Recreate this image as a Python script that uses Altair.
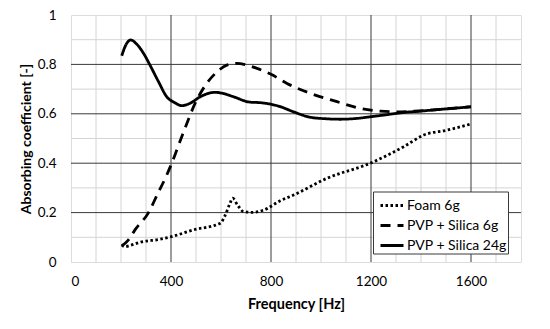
import altair as alt
import pandas as pd

# ---- data ----
foam_f = [203, 215, 243, 276, 356, 403, 490, 597, 617, 635, 647, 666, 690, 724, 770, 837, 890, 1024, 1197, 1331, 1411, 1505, 1600]
foam_v = [0.069, 0.062, 0.069, 0.080, 0.092, 0.103, 0.130, 0.157, 0.190, 0.235, 0.258, 0.231, 0.204, 0.201, 0.210, 0.248, 0.271, 0.339, 0.400, 0.467, 0.514, 0.534, 0.559]

pvp6_f = [203, 230, 256, 310, 346, 383, 403, 443, 503, 543, 590, 623, 663, 700, 744, 800, 864, 957, 1064, 1157, 1237, 1300, 1400, 1500, 1600]
pvp6_v = [0.065, 0.090, 0.130, 0.200, 0.275, 0.352, 0.400, 0.507, 0.656, 0.723, 0.775, 0.797, 0.804, 0.798, 0.784, 0.760, 0.723, 0.683, 0.649, 0.622, 0.611, 0.608, 0.612, 0.620, 0.628]

pvp24_f = [203, 220, 239, 260, 290, 316, 350, 383, 415, 443, 475, 517, 550, 577, 610, 650, 717, 757, 837, 890, 957, 1020, 1077, 1140, 1197, 1260, 1318, 1400, 1478, 1540, 1600]
pvp24_v = [0.835, 0.880, 0.899, 0.885, 0.845, 0.797, 0.730, 0.669, 0.645, 0.633, 0.642, 0.669, 0.683, 0.687, 0.682, 0.669, 0.647, 0.645, 0.629, 0.608, 0.586, 0.580, 0.578, 0.581, 0.588, 0.596, 0.604, 0.611, 0.618, 0.623, 0.629]

series_names = ["Foam 6g", "PVP + Silica 6g", "PVP + Silica 24g"]

x_ticks = [0, 400, 800, 1200, 1600]
y_ticks = [0, 0.2, 0.4, 0.6, 0.8, 1]
minor_x = [100, 200, 300, 500, 600, 700, 900, 1000, 1100, 1300, 1400, 1500, 1700]
minor_y = [0.1, 0.3, 0.5, 0.7, 0.9]
major_x = [400, 800, 1200, 1600]
major_y = [0.2, 0.4, 0.6, 0.8]

rows = []
for name, fs, vs in zip(series_names, [foam_f, pvp6_f, pvp24_f], [foam_v, pvp6_v, pvp24_v]):
    for f, v in zip(fs, vs):
        rows.append({"series": name, "freq": f, "val": v})
df = pd.DataFrame(rows)

FONT = "Lato"
xscale = alt.Scale(domain=[0, 1800], nice=False, zero=False)
yscale = alt.Scale(domain=[0, 1], nice=False)

xaxis = alt.Axis(values=x_ticks, format="d", grid=False, ticks=False, domain=False,
                 labelFont=FONT, labelFontSize=13.5, labelColor="#000", labelPadding=12,
                 title="Frequency [Hz]", titleFont=FONT, titleFontSize=14.5, titleFontWeight="bold",
                 titleColor="#000", titleY=46, titleBaseline="alphabetic")
yaxis = alt.Axis(values=y_ticks, format="~g", grid=False, ticks=False, domain=False,
                 labelFont=FONT, labelFontSize=13.5, labelColor="#000", labelPadding=15,
                 title="Absorbing coefficient [-]", titleFont=FONT, titleFontSize=14,
                 titleFontWeight="bold", titleColor="#000", titleX=-41, titleY=123.5,
                 titleAngle=270, titleAlign="center", titleBaseline="alphabetic")

X = alt.X("v:Q", scale=xscale, axis=xaxis, title="Frequency [Hz]")
Y = alt.Y("v:Q", scale=yscale, axis=yaxis, title="Absorbing coefficient [-]")

minor_vx = alt.Chart(pd.DataFrame({"v": minor_x})).mark_rule(color="#d4d4d4", strokeWidth=1).encode(x=X)
minor_hy = alt.Chart(pd.DataFrame({"v": minor_y})).mark_rule(color="#d4d4d4", strokeWidth=1).encode(y=Y)
major_vx = alt.Chart(pd.DataFrame({"v": major_x})).mark_rule(color="#3a3a3a", strokeWidth=1).encode(x=X)
major_hy = alt.Chart(pd.DataFrame({"v": major_y})).mark_rule(color="#3a3a3a", strokeWidth=1).encode(y=Y)

lines = alt.Chart(df).mark_line(color="black", strokeWidth=2.8, interpolate="monotone").encode(
    x=alt.X("freq:Q", scale=xscale, axis=xaxis, title="Frequency [Hz]"),
    y=alt.Y("val:Q", scale=yscale, axis=yaxis, title="Absorbing coefficient [-]"),
    strokeDash=alt.StrokeDash(
        "series:N",
        scale=alt.Scale(domain=series_names, range=[[2.5, 2.5], [10, 7], [1, 0]]),
        legend=alt.Legend(
            title=None, orient="none", legendX=302, legendY=176.5,
            symbolType="stroke", symbolSize=529, symbolStrokeWidth=2.8, symbolOffset=5,
            symbolStrokeColor="black", labelFont=FONT, labelFontSize=14,
            labelColor="#000", labelOffset=2, rowPadding=-0.5,
            padding=1, fillColor="white", strokeColor="#3a3a3a",
        ),
    ),
    detail="series:N",
)

chart = alt.layer(minor_vx, minor_hy, major_vx, major_hy, lines).properties(
    width=450, height=247,
    autosize=alt.AutoSizeParams(type="none"),
    padding={"left": 63, "top": 7, "right": 20, "bottom": 50},
).configure_view(stroke="#3a3a3a", strokeWidth=1).configure(background="white")

chart.save("out.html", embed_options={"renderer": "svg", "actions": False})
